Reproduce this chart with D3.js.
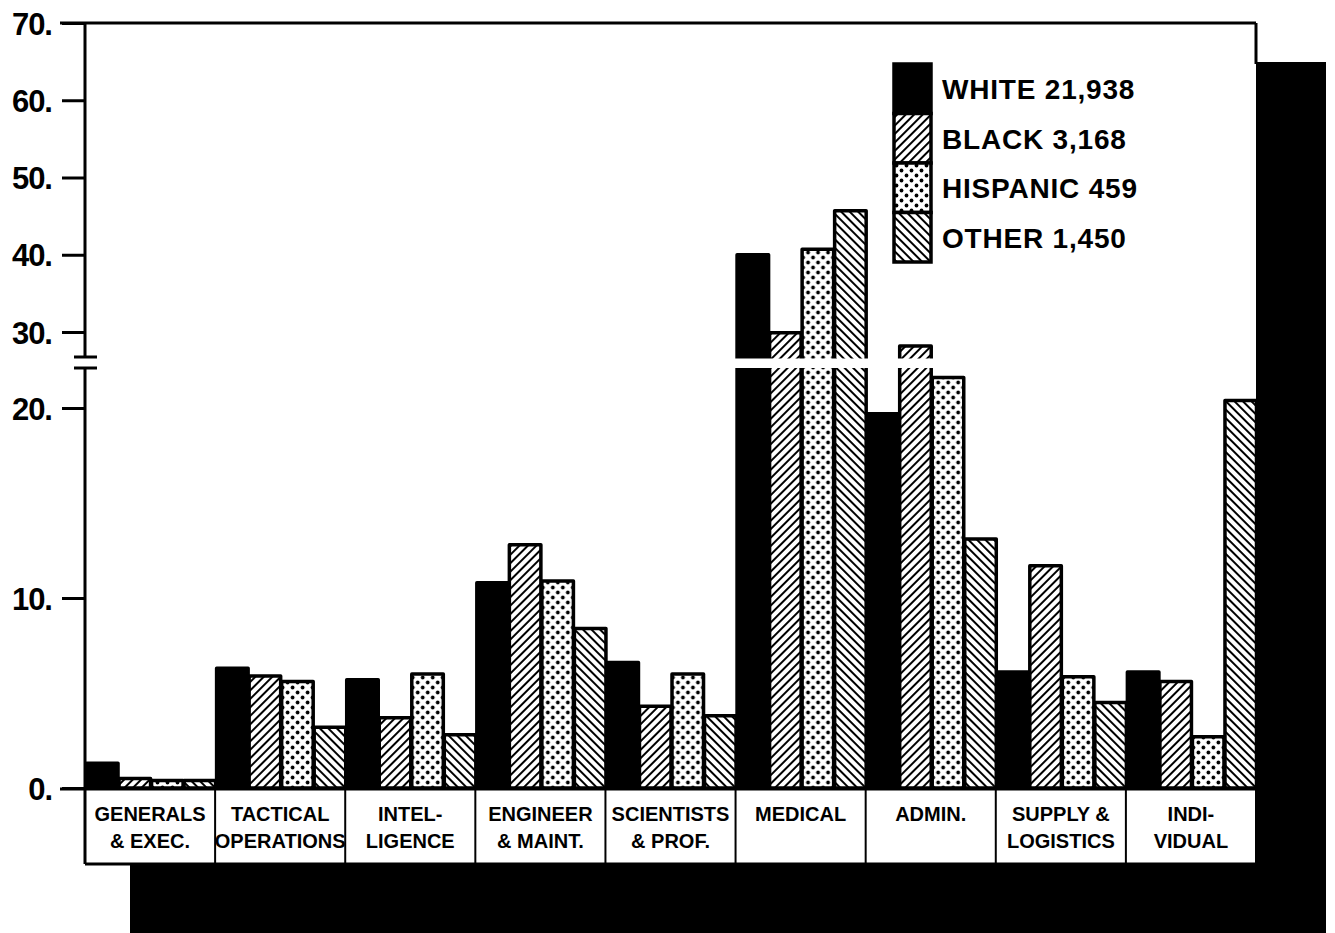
<!DOCTYPE html>
<html>
<head>
<meta charset="utf-8">
<script src="https://cdn.jsdelivr.net/npm/d3@7"></script>
<style>
  body { margin: 0; background: #fff; }
  text { font-family: "Liberation Sans", Arial, sans-serif; font-weight: bold; fill: #000; }
</style>
</head>
<body>
<div id="chart"></div>
<script>
// categories (two text lines each) and the four series, percent of each group
const categories = [
    ["GENERALS", "& EXEC."],
    ["TACTICAL", "OPERATIONS"],
    ["INTEL-", "LIGENCE"],
    ["ENGINEER", "& MAINT."],
    ["SCIENTISTS", "& PROF."],
    ["MEDICAL"],
    ["ADMIN."],
    ["SUPPLY &", "LOGISTICS"],
    ["INDI-", "VIDUAL"]
]
const seriesNames = ["WHITE 21,938", "BLACK 3,168", "HISPANIC 459", "OTHER 1,450"]
const white = [1.3, 6.3, 5.7, 10.8, 6.6, 40.0, 19.7, 6.1, 6.1]
const black = [0.5, 5.9, 3.7, 12.8, 4.3, 29.9, 28.2, 11.7, 5.6]
const hispanic = [0.4, 5.6, 6.0, 10.9, 6.0, 40.7, 21.6, 5.85, 2.7]
const other = [0.4, 3.2, 2.8, 8.4, 3.8, 45.7, 13.1, 4.5, 20.4]
const lowerTicks = [0, 10, 20]
const upperTicks = [30, 40, 50, 60, 70]

const series = [white, black, hispanic, other]
const fills = ["#000", "url(#hatchFwd)", "url(#dots)", "url(#hatchBack)"]

const W = 1335, H = 933
const plotLeft = 85, plotRight = 1256, plotTop = 23, base = 788, boxBottom = 864

const svg = d3.select("#chart")
    .append("svg")
    .attr("width", W)
    .attr("height", H)

// patterns
const defs = svg.append("defs")
const hf = defs.append("pattern").attr("id", "hatchFwd")
    .attr("patternUnits", "userSpaceOnUse")
    .attr("width", 6).attr("height", 6)
    .attr("patternTransform", "rotate(45)")
hf.append("rect").attr("width", 6).attr("height", 6).attr("fill", "#fff")
hf.append("line").attr("x1", 3).attr("y1", 0).attr("x2", 3).attr("y2", 6)
    .attr("stroke", "#000").attr("stroke-width", 2)

const hb = defs.append("pattern").attr("id", "hatchBack")
    .attr("patternUnits", "userSpaceOnUse")
    .attr("width", 6).attr("height", 6)
    .attr("patternTransform", "rotate(-45)")
hb.append("rect").attr("width", 6).attr("height", 6).attr("fill", "#fff")
hb.append("line").attr("x1", 3).attr("y1", 0).attr("x2", 3).attr("y2", 6)
    .attr("stroke", "#000").attr("stroke-width", 2)

const dp = defs.append("pattern").attr("id", "dots")
    .attr("patternUnits", "userSpaceOnUse")
    .attr("width", 10).attr("height", 10)
dp.append("rect").attr("width", 10).attr("height", 10).attr("fill", "#fff")
dp.append("circle").attr("cx", 2.5).attr("cy", 2.5).attr("r", 1.9).attr("fill", "#000")
dp.append("circle").attr("cx", 7.5).attr("cy", 7.5).attr("r", 1.9).attr("fill", "#000")

// drop shadow behind the chart box
svg.append("rect")
    .attr("x", 130).attr("y", 62)
    .attr("width", 1326 - 130).attr("height", H)
    .attr("fill", "#000")

svg.append("rect")
    .attr("x", plotLeft).attr("y", plotTop)
    .attr("width", plotRight - plotLeft).attr("height", boxBottom - plotTop)
    .attr("fill", "#fff")

// broken y scales
const yLow = d3.scaleLinear().domain([0, 20]).range([base, 408])
const yHigh = d3.scaleLinear().domain([30, 70]).range([332, plotTop])
const loBreak = yLow.invert(368)
const hiBreak = yHigh.invert(357)
const yBroken = v => v <= loBreak ? yLow(v) : yHigh(v)

const x = d3.scaleBand()
    .domain(d3.range(categories.length))
    .range([plotLeft, plotRight])
    .padding(0)
const xs = d3.scaleBand()
    .domain(d3.range(series.length))
    .range([0, x.bandwidth()])
    .padding(0)

// bars
const groups = svg.append("g")
    .selectAll("g")
    .data(categories)
    .join("g")
    .attr("transform", (d, i) => `translate(${x(i)},0)`)

groups.selectAll("rect")
    .data((d, i) => series.map((s, k) => ({ k: k, v: s[i] })))
    .join("rect")
    .attr("x", d => xs(d.k) + 1.5)
    .attr("y", d => yBroken(d.v))
    .attr("width", xs.bandwidth() - 1)
    .attr("height", d => yLow(0) - yBroken(d.v))
    .attr("fill", d => fills[d.k])
    .attr("stroke", "#000")
    .attr("stroke-width", 3.5)
    .attr("stroke-linejoin", "round")

// white gap at the axis break
svg.append("rect")
    .attr("x", plotLeft + 2).attr("y", yHigh(hiBreak) + 1.5)
    .attr("width", plotRight - plotLeft - 2)
    .attr("height", yLow(loBreak) - yHigh(hiBreak) - 1.5)
    .attr("fill", "#fff")

// axes
const axisLow = svg.append("g")
    .attr("transform", `translate(${plotLeft},0)`)
    .call(d3.axisLeft(yLow).tickValues(lowerTicks).tickFormat(d => d + ".").tickSize(23).tickPadding(10).tickSizeOuter(0))
const axisHigh = svg.append("g")
    .attr("transform", `translate(${plotLeft},0)`)
    .call(d3.axisLeft(yHigh).tickValues(upperTicks).tickFormat(d => d + ".").tickSize(23).tickPadding(10).tickSizeOuter(0))

for (const a of [axisLow, axisHigh]) {
    a.select(".domain").remove()
    a.selectAll("line").attr("stroke", "#000").attr("stroke-width", 3)
    a.selectAll("text")
        .style("font-size", "31px")
        .style("font-family", "'Liberation Sans', Arial, sans-serif")
        .style("font-weight", "bold")
        .style("letter-spacing", "-1px")
        .attr("fill", "#000")
        .attr("dy", "0.36em")
}

const lineStyle = sel => sel.attr("stroke", "#000").attr("stroke-width", 3).attr("fill", "none")

// y axis line in two segments
svg.append("line").call(lineStyle)
    .attr("x1", plotLeft).attr("x2", plotLeft).attr("y1", yHigh(70)).attr("y2", yHigh(hiBreak))
svg.append("line").call(lineStyle)
    .attr("x1", plotLeft).attr("x2", plotLeft).attr("y1", yLow(loBreak)).attr("y2", boxBottom)
// break marks
for (const yy of [yHigh(hiBreak), yLow(loBreak)]) {
    svg.append("line").call(lineStyle)
        .attr("x1", plotLeft - 11).attr("x2", plotLeft + 12).attr("y1", yy).attr("y2", yy)
}

// frame top and right edge
svg.append("line").call(lineStyle)
    .attr("x1", 60).attr("x2", plotRight).attr("y1", plotTop).attr("y2", plotTop)
svg.append("line").call(lineStyle)
    .attr("x1", plotRight).attr("x2", plotRight).attr("y1", plotTop).attr("y2", 64)

// category label boxes
svg.append("line").call(lineStyle)
    .attr("x1", 60).attr("x2", plotRight).attr("y1", yLow(0) + 1).attr("y2", yLow(0) + 1)
svg.append("line").call(lineStyle)
    .attr("x1", plotLeft).attr("x2", plotRight).attr("y1", boxBottom).attr("y2", boxBottom)
svg.append("g")
    .selectAll("line")
    .data(d3.range(categories.length + 1))
    .join("line")
    .call(lineStyle)
    .attr("stroke-width", 2)
    .attr("x1", i => i < categories.length ? x(i) : plotRight)
    .attr("x2", i => i < categories.length ? x(i) : plotRight)
    .attr("y1", yLow(0) + 1)
    .attr("y2", boxBottom)

groups.append("text")
    .attr("text-anchor", "middle")
    .style("font-size", "20px")
    .selectAll("tspan")
    .data(d => d)
    .join("tspan")
    .attr("x", x.bandwidth() / 2)
    .attr("y", (d, j) => 821 + j * 27)
    .text(d => d)

// legend
const legend = svg.append("g")
const lg = legend.selectAll("g")
    .data(seriesNames)
    .join("g")
    .attr("transform", (d, i) => `translate(894,${64 + i * 49.5})`)
lg.append("rect")
    .attr("width", 37).attr("height", 49.5)
    .attr("fill", (d, i) => fills[i])
    .attr("stroke", "#000").attr("stroke-width", 3.5)
lg.append("text")
    .attr("x", 48)
    .attr("y", 35)
    .style("font-size", "28px")
    .style("letter-spacing", "0.8px")
    .text(d => d)
</script>
</body>
</html>
